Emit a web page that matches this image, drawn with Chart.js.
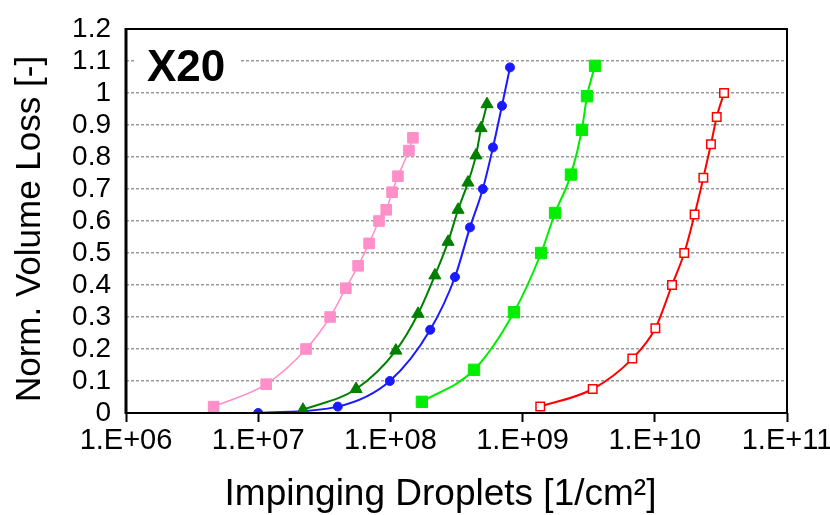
<!DOCTYPE html>
<html>
<head>
<meta charset="utf-8">
<title>X20 - normalised volume loss</title>
<script src="https://cdn.jsdelivr.net/npm/chart.js@4.4.1/dist/chart.umd.min.js"></script>
<style>
  html, body { margin: 0; padding: 0; background: #fff; }
  #wrap { width: 830px; height: 515px; }
</style>
</head>
<body>
<div id="wrap"><canvas id="chart" width="830" height="515"></canvas></div>
<script>
// impinging droplets [1/cm2] vs normalised volume loss, one pair of arrays per curve
const pinkX = [4.6e6, 1.15e7, 2.3e7, 3.5e7, 4.6e7, 5.7e7, 6.9e7, 8.2e7, 9.3e7, 1.03e8, 1.14e8, 1.38e8, 1.48e8];
const pinkY = [0.02, 0.09, 0.2, 0.3, 0.39, 0.46, 0.53, 0.6, 0.635, 0.69, 0.74, 0.82, 0.86];

const darkGreenX = [2.18e7, 5.5e7, 1.1e8, 1.62e8, 2.17e8, 2.73e8, 3.25e8, 3.86e8, 4.44e8, 4.85e8, 5.38e8];
const darkGreenY = [0.01, 0.075, 0.195, 0.31, 0.43, 0.535, 0.635, 0.72, 0.805, 0.89, 0.965];

const blueX = [1.0e7, 4.0e7, 9.9e7, 2.0e8, 3.08e8, 4.0e8, 5.0e8, 5.97e8, 6.98e8, 8.03e8];
const blueY = [0.0, 0.02, 0.1, 0.26, 0.425, 0.58, 0.7, 0.83, 0.96, 1.08];

const limeX = [1.73e8, 4.29e8, 8.6e8, 1.38e9, 1.76e9, 2.32e9, 2.81e9, 3.07e9, 3.53e9];
const limeY = [0.035, 0.135, 0.315, 0.5, 0.625, 0.745, 0.885, 0.99, 1.085];

const redX = [1.36e9, 3.39e9, 6.76e9, 1.01e10, 1.35e10, 1.67e10, 2.0e10, 2.33e10, 2.66e10, 2.94e10, 3.34e10];
const redY = [0.02, 0.075, 0.17, 0.265, 0.4, 0.5, 0.62, 0.735, 0.84, 0.925, 1.0];

const xTicks = [1e6, 1e7, 1e8, 1e9, 1e10, 1e11];
const xTickLabels = ['1.E+06', '1.E+07', '1.E+08', '1.E+09', '1.E+10', '1.E+11'];
const yTickLabels = ['0', '0.1', '0.2', '0.3', '0.4', '0.5', '0.6', '0.7', '0.8', '0.9', '1', '1.1', '1.2'];

const panelLabel = 'X20';
const xTitle = 'Impinging Droplets [1/cm²]';
const yTitle = 'Norm. Volume Loss [-]';
const FONT = '"Liberation Sans", Arial, sans-serif';

function pairs(xs, ys) {
  return xs.map((x, i) => ({ x: x, y: ys[i] }));
}

function series(xs, ys, color, style, radius, extra) {
  return Object.assign({
    data: pairs(xs, ys),
    borderColor: color,
    backgroundColor: color,
    pointBackgroundColor: color,
    pointBorderColor: color,
    borderWidth: 2,
    pointStyle: style,
    pointRadius: radius,
    pointHoverRadius: radius,
    pointBorderWidth: 1,
    cubicInterpolationMode: 'monotone'
  }, extra || {});
}

// frame, "X20" tag on a white patch, and the two axis titles
const framePlugin = {
  id: 'frame',
  beforeDatasetsDraw(chart) {
    const { ctx, chartArea: a } = chart;
    ctx.save();
    ctx.font = 'bold 44px ' + FONT;
    const w = ctx.measureText(panelLabel).width;
    ctx.fillStyle = '#fff';
    ctx.fillRect(a.left + 9, a.top + 14, w + 26, 46);
    ctx.fillStyle = '#000';
    ctx.textBaseline = 'alphabetic';
    ctx.fillText(panelLabel, a.left + 21, a.top + 52);
    ctx.restore();
  },
  afterDraw(chart) {
    const { ctx, chartArea: a } = chart;
    ctx.save();
    ctx.strokeStyle = '#000';
    ctx.lineWidth = 2;
    ctx.strokeRect(a.left, a.top, a.right - a.left, a.bottom - a.top);
    ctx.lineWidth = 3;
    ctx.beginPath();
    ctx.moveTo(a.left, a.top - 1);
    ctx.lineTo(a.left, a.bottom + 1);
    ctx.stroke();

    ctx.fillStyle = '#000';
    ctx.textAlign = 'center';
    ctx.textBaseline = 'middle';
    ctx.font = '37px ' + FONT;
    ctx.fillText(xTitle, (a.left + a.right) / 2 - 16, a.bottom + 82);
    ctx.translate(30, (a.top + a.bottom) / 2 + 8);
    ctx.rotate(-Math.PI / 2);
    ctx.font = '35px ' + FONT;
    ctx.fillText(yTitle, 0, 0);
    ctx.restore();
  }
};

new Chart(document.getElementById('chart'), {
  type: 'line',
  data: {
    datasets: [
      series(pinkX, pinkY, '#ff8fc8', 'rect', 7.5, { borderWidth: 1.5 }),
      series(darkGreenX, darkGreenY, '#008000', 'triangle', 7),
      series(blueX, blueY, '#1a1aff', 'circle', 4.5),
      series(limeX, limeY, '#00ee00', 'rect', 8),
      series(redX, redY, '#ff0000', 'rect', 6, { pointBackgroundColor: '#fff', pointBorderWidth: 1.5 })
    ]
  },
  options: {
    responsive: false,
    animation: false,
    layout: { padding: { top: 26, right: 43, left: 0, bottom: 0 } },
    plugins: {
      legend: { display: false },
      tooltip: { enabled: false }
    },
    scales: {
      x: {
        type: 'logarithmic',
        min: 1e6,
        max: 1e11,
        afterBuildTicks: s => { s.ticks = xTicks.map(v => ({ value: v })); },
        afterFit: s => { s.height = 102; s.paddingLeft = 0; s.paddingRight = 0; },
        border: { display: false },
        grid: {
          drawOnChartArea: false,
          drawTicks: true,
          tickLength: 9,
          tickWidth: 2,
          tickColor: '#000'
        },
        ticks: {
          autoSkip: false,
          maxRotation: 0,
          padding: 2,
          color: '#000',
          font: { family: FONT, size: 29 },
          callback: (v, i) => xTickLabels[i]
        }
      },
      y: {
        min: 0,
        max: 1.2,
        afterFit: s => { s.width = 126; },
        border: { display: false, dash: [3, 2] },
        grid: {
          color: '#9a9a9a',
          lineWidth: 1.5,
          drawTicks: false
        },
        ticks: {
          stepSize: 0.1,
          autoSkip: false,
          padding: 15,
          color: '#000',
          font: { family: FONT, size: 28, lineHeight: 1 },
          callback: (v, i) => yTickLabels[i]
        }
      }
    }
  },
  plugins: [framePlugin]
});
</script>
</body>
</html>
